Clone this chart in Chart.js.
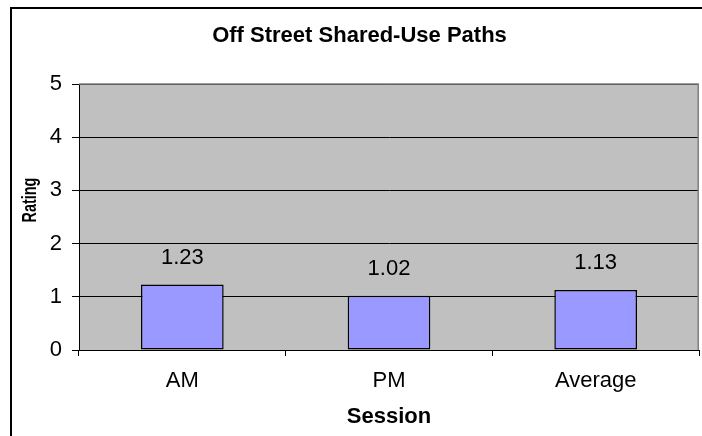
<!DOCTYPE html>
<html>
<head>
<meta charset="utf-8">
<script src="https://cdn.jsdelivr.net/npm/chart.js@4"></script>
<style>
  html, body { margin: 0; padding: 0; background: #ffffff; }
  #wrap { width: 702px; height: 436px; }
</style>
</head>
<body>
<div id="wrap"><canvas id="chart" width="702" height="436"></canvas></div>
<script>
// Session categories and their mean ratings
const sessions = ['AM', 'PM', 'Average'];
const ratings = [1.23, 1.02, 1.13];
const ratingTicks = [0, 1, 2, 3, 4, 5];

const chartTitle = 'Off Street Shared-Use Paths';
const xTitle = 'Session';
const yTitle = 'Rating';

const FONT = 'Arial, "Liberation Sans", Helvetica, sans-serif';

// White page with the black frame around the whole chart
const framePlugin = {
  id: 'frame',
  beforeDraw(chart) {
    const ctx = chart.ctx;
    ctx.save();
    ctx.fillStyle = '#ffffff';
    ctx.fillRect(0, 0, chart.width, chart.height);
    ctx.strokeStyle = '#000000';
    ctx.lineWidth = 2;
    ctx.strokeRect(11, 8, chart.width + 40, chart.height + 40);
    ctx.restore();
  }
};

// Grey plot area behind the grid
const plotAreaPlugin = {
  id: 'plotArea',
  beforeDraw(chart) {
    const a = chart.chartArea;
    const ctx = chart.ctx;
    ctx.save();
    ctx.fillStyle = '#c0c0c0';
    ctx.fillRect(a.left, a.top, a.right - a.left, a.bottom - a.top);
    ctx.restore();
  },
  beforeDatasetsDraw(chart) {
    const a = chart.chartArea;
    const ctx = chart.ctx;
    ctx.save();
    ctx.strokeStyle = '#808080';
    ctx.lineWidth = 1.5;
    ctx.beginPath();
    ctx.moveTo(a.left, a.top);
    ctx.lineTo(a.right - 0.75, a.top);
    ctx.lineTo(a.right - 0.75, a.bottom);
    ctx.stroke();
    ctx.restore();
  }
};

// Value labels above each bar, plus the narrow vertical axis title
const labelPlugin = {
  id: 'labels',
  afterDatasetsDraw(chart) {
    const ctx = chart.ctx;
    const meta = chart.getDatasetMeta(0);
    const yScale = chart.scales.y;
    ctx.save();
    ctx.font = '22px ' + FONT;
    ctx.fillStyle = '#000000';
    ctx.textAlign = 'center';
    ctx.textBaseline = 'middle';
    meta.data.forEach((bar, i) => {
      const v = ratings[i];
      ctx.fillText(v.toFixed(2), bar.x, yScale.getPixelForValue(v) - 26.5);
    });
    ctx.restore();
  },
  afterDraw(chart) {
    const ctx = chart.ctx;
    ctx.save();
    ctx.translate(30, 200);
    ctx.rotate(-Math.PI / 2);
    ctx.scale(0.72, 1);
    ctx.font = 'bold 20px ' + FONT;
    ctx.fillStyle = '#000000';
    ctx.textAlign = 'center';
    ctx.textBaseline = 'middle';
    ctx.fillText(yTitle, 0, 0);
    ctx.restore();
  }
};

new Chart(document.getElementById('chart'), {
  type: 'bar',
  data: {
    labels: sessions,
    datasets: [{
      data: ratings,
      backgroundColor: '#9999ff',
      borderColor: '#000000',
      borderWidth: 1.5,
      borderSkipped: false,
      categoryPercentage: 1,
      barPercentage: 0.4
    }]
  },
  options: {
    responsive: false,
    animation: false,
    devicePixelRatio: 1,
    layout: { padding: { left: 20, right: 3, top: 0, bottom: 0 } },
    plugins: {
      legend: { display: false },
      tooltip: { enabled: false },
      title: {
        display: true,
        text: chartTitle,
        color: '#000000',
        font: { family: FONT, size: 22, weight: 'bold', lineHeight: 1.2 },
        padding: { top: 22.3, bottom: 35.3 }
      }
    },
    scales: {
      x: {
        grid: {
          display: true,
          drawOnChartArea: false,
          drawTicks: true,
          tickLength: 6,
          tickColor: '#000000',
          offset: true
        },
        border: { display: true, color: '#000000', width: 1 },
        ticks: {
          color: '#000000',
          padding: 11.3,
          font: { family: FONT, size: 22 }
        },
        title: {
          display: true,
          text: xTitle,
          color: '#000000',
          font: { family: FONT, size: 22, weight: 'bold', lineHeight: 1.2 },
          padding: { top: 0, bottom: 6 }
        },
        afterFit(scale) { scale.height = 86; }
      },
      y: {
        min: 0,
        max: 5,
        afterBuildTicks(scale) {
          scale.ticks = ratingTicks.map(v => ({ value: v }));
        },
        grid: {
          color: '#000000',
          lineWidth: 1,
          drawTicks: true,
          tickLength: 7,
          tickColor: '#000000'
        },
        border: { display: true, color: '#000000', width: 1 },
        ticks: {
          color: '#000000',
          padding: 10,
          font: { family: FONT, size: 22 }
        },
        title: { display: false },
        afterFit(scale) { scale.width = 59; }
      }
    }
  },
  plugins: [framePlugin, plotAreaPlugin, labelPlugin]
});
</script>
</body>
</html>
